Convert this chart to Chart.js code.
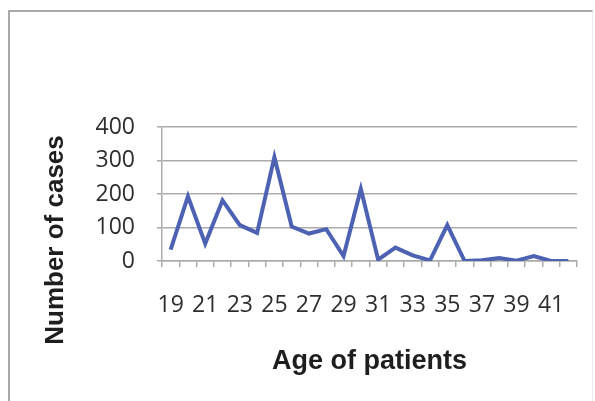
<!DOCTYPE html>
<html>
<head>
<meta charset="utf-8">
<script src="https://cdn.jsdelivr.net/npm/chart.js@4/dist/chart.umd.min.js"></script>
<style>
  html, body { margin: 0; padding: 0; background: #ffffff; }
  #wrap { position: relative; width: 595px; height: 401px; overflow: hidden; background: #ffffff; }
  #frame {
    position: absolute; left: 8px; top: 10px; width: 582px; height: 395px;
    border-left: 2px solid #a9a9a9; border-top: 2px solid #a9a9a9;
    border-right: 1px solid #ececec;
  }
  #chart { position: absolute; left: 0; top: 0; }
</style>
</head>
<body>
<div id="wrap">
  <div id="frame"></div>
  <canvas id="chart" width="595" height="401"></canvas>
</div>
<script>
// Patient ages (one category per year) and the number of cases at each age
const ages = ['19', '20', '21', '22', '23', '24', '25', '26', '27', '28', '29', '30',
              '31', '32', '33', '34', '35', '36', '37', '38', '39', '40', '41', '42'];
const cases = [34, 193, 52, 181, 107, 84, 310, 103, 82, 95, 15, 215,
               4, 40, 17, 2, 107, 0, 2, 9, 1, 15, 0, 0];
const yTicks = [0, 100, 200, 300, 400];

const xTitle = 'Age of patients';
const yTitle = 'Number of cases';

const gridGray = '#ababab';
const tickFont = { family: 'Open Sans', size: 23, weight: '500' };
const titleFont = 'bold 26px "Liberation Sans", Arial, sans-serif';

// Vertical axis title, placed beside the value labels
const yTitlePlugin = {
  id: 'yTitle',
  afterDraw(chart) {
    const { ctx, chartArea } = chart;
    ctx.save();
    ctx.translate(chartArea.left - 106, chartArea.bottom - 21);
    ctx.rotate(-Math.PI / 2);
    ctx.font = titleFont;
    ctx.fillStyle = '#1e1e1e';
    ctx.textAlign = 'center';
    ctx.textBaseline = 'middle';
    ctx.fillText(yTitle, 0, 0);
    ctx.restore();
  }
};

new Chart(document.getElementById('chart'), {
  type: 'line',
  data: {
    labels: ages,
    datasets: [{
      data: cases,
      borderColor: '#4d62b3',
      borderWidth: 4,
      pointRadius: 0,
      tension: 0,
      fill: false
    }]
  },
  options: {
    responsive: false,
    devicePixelRatio: 1,
    animation: false,
    layout: { padding: { left: 80, top: 127, right: 18, bottom: 0 } },
    plugins: { legend: { display: false }, tooltip: { enabled: false } },
    scales: {
      x: {
        type: 'category',
        offset: true,
        afterFit(scale) { scale.height = 140; },
        grid: { offset: true, drawOnChartArea: false, tickLength: 6, color: gridGray, lineWidth: 1.5 },
        border: { color: gridGray, width: 1.5 },
        ticks: {
          autoSkip: false, maxRotation: 0, minRotation: 0,
          font: tickFont, color: '#2e2e2e', padding: 25,
          callback(value, index) { return index % 2 === 0 ? ages[index] : ''; }
        },
        title: {
          display: true, text: xTitle, color: '#1e1e1e',
          font: { family: 'Liberation Sans', size: 27, weight: 'bold' },
          padding: { top: 0, bottom: 23 }
        }
      },
      y: {
        min: yTicks[0],
        max: yTicks[yTicks.length - 1],
        afterFit(scale) { scale.width = 82; },
        afterBuildTicks(scale) { scale.ticks = yTicks.map(v => ({ value: v })); },
        grid: { color: gridGray, lineWidth: 1.5, tickLength: 5 },
        border: { color: gridGray, width: 1.5 },
        ticks: { font: tickFont, color: '#2e2e2e', padding: 22 }
      }
    }
  },
  plugins: [yTitlePlugin]
});
</script>
</body>
</html>
